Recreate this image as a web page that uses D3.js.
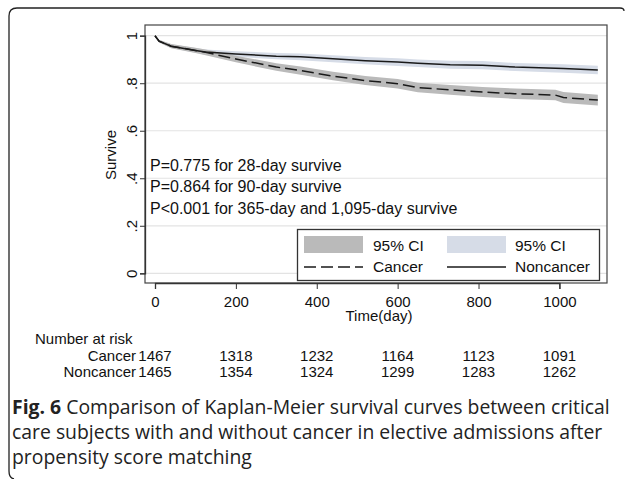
<!DOCTYPE html>
<html><head><meta charset="utf-8">
<script src="https://cdn.jsdelivr.net/npm/d3@7"></script>
<style>
html,body{margin:0;padding:0;background:#fff;}
svg text.ar{font-family:"Liberation Sans",Arial,sans-serif;}
svg text.cap{font-family:"Open Sans","Noto Sans",sans-serif;}
</style></head>
<body>
<svg id="chart" width="627" height="479"></svg>
<script>
// ---- data ----
const times          = [0, 10, 40, 100, 125, 200, 300, 360, 440, 520, 600, 650, 730, 810, 890, 990, 1010, 1095];
const cancerSurv     = [1.0,0.977,0.956,0.938,0.930,0.902,0.868,0.853,0.830,0.811,0.798,0.782,0.772,0.763,0.756,0.750,0.740,0.729];
const cancerLower    = [1.0,0.971,0.947,0.927,0.918,0.888,0.852,0.836,0.812,0.792,0.778,0.762,0.751,0.742,0.734,0.728,0.717,0.706];
const cancerUpper    = [1.0,0.983,0.965,0.949,0.942,0.916,0.884,0.870,0.848,0.830,0.818,0.802,0.793,0.784,0.778,0.772,0.763,0.752];
const noncancerSurv  = [1.0,0.977,0.956,0.938,0.931,0.923,0.914,0.911,0.903,0.895,0.889,0.884,0.878,0.876,0.868,0.863,0.862,0.856];
const noncancerLower = [1.0,0.972,0.948,0.928,0.920,0.911,0.901,0.897,0.888,0.880,0.873,0.868,0.861,0.859,0.851,0.845,0.844,0.838];
const noncancerUpper = [1.0,0.982,0.964,0.948,0.942,0.935,0.927,0.925,0.918,0.910,0.905,0.900,0.895,0.893,0.885,0.881,0.880,0.874];

const xTicks = [0, 200, 400, 600, 800, 1000];
const yTicks = [0, 0.2, 0.4, 0.6, 0.8, 1];
const yTickLabels = ["0", ".2", ".4", ".6", ".8", "1"];
const riskGroups = ["Cancer", "Noncancer"];
const riskCancer = [1467, 1318, 1232, 1164, 1123, 1091];
const riskNoncancer = [1465, 1354, 1324, 1299, 1283, 1262];
const annotations = ["P=0.775 for 28-day survive", "P=0.864 for 90-day survive", "P<0.001 for 365-day and 1,095-day survive"];
const captionLines = [
  ["Fig. 6", " Comparison of Kaplan-Meier survival curves between critical"],
  ["", "care subjects with and without cancer in elective admissions after"],
  ["", "propensity score matching"]
];

// ---- layout ----
const svg = d3.select("#chart");
const plot = {left:145, right:607, top:25, bottom:283};
const x = d3.scaleLinear().domain([0, 1000]).range([155, 559.4]);
const y = d3.scaleLinear().domain([0, 1]).range([273.3, 35.7]);
const cCI = "#bababa", nCI = "#d6dce7", lineCol = "#1a1a1a", txt = "#111";

// outer frame
svg.append("path")
  .attr("d","M624,11 Q624,8 620,8 L17,8 Q9,8 9,16 L9,471 Q9,478 14,479")
  .attr("fill","none").attr("stroke","#222").attr("stroke-width",1.3);

// gridlines
svg.append("g").selectAll("line").data(yTicks).join("line")
  .attr("x1",plot.left).attr("x2",plot.right)
  .attr("y1",d=>y(d)).attr("y2",d=>y(d))
  .attr("stroke","#e3e3e3").attr("stroke-width",1.2);

// CI bands
const idx = d3.range(times.length);
const area = (lo, hi) => d3.area().x(i=>x(times[i])).y0(i=>y(lo[i])).y1(i=>y(hi[i]));
svg.append("path").datum(idx).attr("d", area(noncancerLower, noncancerUpper)).attr("fill", nCI);
svg.append("path").datum(idx).attr("d", area(cancerLower, cancerUpper)).attr("fill", cCI);

// lines
const line = s => d3.line().x(i=>x(times[i])).y(i=>y(s[i]));
svg.append("path").datum(idx).attr("d", line(noncancerSurv))
  .attr("fill","none").attr("stroke",lineCol).attr("stroke-width",1.5);
svg.append("path").datum(idx).attr("d", line(cancerSurv))
  .attr("fill","none").attr("stroke",lineCol).attr("stroke-width",1.5).attr("stroke-dasharray","12,5");

// plot box
svg.append("rect").attr("x",plot.left).attr("y",plot.top)
  .attr("width",plot.right-plot.left).attr("height",plot.bottom-plot.top)
  .attr("fill","none").attr("stroke","#444").attr("stroke-width",1.2);

// y axis
const yAxis = svg.append("g").attr("transform",`translate(${plot.left},0)`)
  .call(d3.axisLeft(y).tickValues(yTicks).tickSize(5).tickFormat((d,i)=>yTickLabels[i]));
yAxis.attr("font-family",null).attr("font-size",null);
yAxis.select(".domain").attr("stroke","#333").attr("stroke-width",1.3);
yAxis.selectAll(".tick line").attr("stroke","#333");
yAxis.selectAll(".tick text").attr("class","ar")
  .attr("font-size",15).attr("fill",txt)
  .attr("text-anchor","middle").attr("x",0).attr("dy",0).attr("y",0)
  .attr("transform","translate(-14,0) rotate(-90)")
  .attr("dominant-baseline","central");

// x axis
const xAxis = svg.append("g").attr("transform",`translate(0,${plot.bottom})`)
  .call(d3.axisBottom(x).tickValues(xTicks).tickSize(6).tickFormat(d3.format("d")));
xAxis.attr("font-family",null).attr("font-size",null);
xAxis.select(".domain").attr("stroke","#333").attr("stroke-width",1.3);
xAxis.selectAll(".tick line").attr("stroke","#333");
xAxis.selectAll(".tick text").attr("class","ar").attr("font-size",15).attr("fill",txt)
  .attr("dy",0).attr("y",23.5);

// axis titles
svg.append("text").attr("class","ar").attr("transform","translate(116,155) rotate(-90)")
  .attr("text-anchor","middle").attr("font-size",15).attr("fill",txt).text("Survive");
svg.append("text").attr("class","ar").attr("x",379).attr("y",320.5).attr("text-anchor","middle")
  .attr("font-size",15).attr("fill",txt).text("Time(day)");

// annotations
svg.append("g").selectAll("text").data(annotations).join("text").attr("class","ar")
  .attr("x",150).attr("y",(d,i)=>170.5+i*21.7)
  .attr("font-size",16).attr("fill",txt).text(d=>d);

// legend
const lg = svg.append("g");
lg.append("rect").attr("x",297.5).attr("y",229.5).attr("width",302).attr("height",51)
  .attr("fill","#fff").attr("stroke","#333").attr("stroke-width",1.3);
lg.append("rect").attr("x",304).attr("y",236).attr("width",59).attr("height",17).attr("fill",cCI);
lg.append("rect").attr("x",447).attr("y",236).attr("width",59).attr("height",17).attr("fill",nCI);
lg.append("line").attr("x1",304).attr("x2",363).attr("y1",267).attr("y2",267)
  .attr("stroke",lineCol).attr("stroke-width",1.5).attr("stroke-dasharray","12,5");
lg.append("line").attr("x1",447).attr("x2",506).attr("y1",267).attr("y2",267)
  .attr("stroke",lineCol).attr("stroke-width",1.5);
const legTexts = [["95% CI",373,251],["95% CI",515,251],["Cancer",373,272],["Noncancer",515,272]];
lg.selectAll("text.l").data(legTexts).join("text").attr("class","ar")
  .attr("x",d=>d[1]).attr("y",d=>d[2]).attr("font-size",15.5).attr("fill",txt).text(d=>d[0]);

// number at risk
svg.append("text").attr("class","ar").attr("x",35).attr("y",343.5).attr("font-size",15).attr("fill",txt).text("Number at risk");
const riskRows = [riskCancer, riskNoncancer];
riskRows.forEach((row,r)=>{
  const yy = 360.5 + r*16.5;
  svg.append("text").attr("class","ar").attr("x",x(0)-19).attr("y",yy).attr("text-anchor","end")
    .attr("font-size",15).attr("fill",txt).text(riskGroups[r]);
  svg.append("g").selectAll("text").data(row).join("text").attr("class","ar")
    .attr("x",(d,i)=>x(xTicks[i])).attr("y",yy).attr("text-anchor","middle")
    .attr("font-size",15).attr("fill",txt).text(d=>d);
});

// caption
const cap = svg.append("g").attr("fill","#222");
const capTexts = captionLines.map((ln,i)=>{
  const t = cap.append("text").attr("class","cap").attr("x",12).attr("y",414+i*25).attr("font-size",18);
  if (ln[0]) t.append("tspan").attr("font-weight","bold").text(ln[0]);
  t.append("tspan").text(ln[1]);
  return t;
});
const w0 = capTexts[0].node().getComputedTextLength();
const fs = 18 * 598 / w0;
capTexts.forEach(t=>t.attr("font-size",fs));
</script>
</body></html>
